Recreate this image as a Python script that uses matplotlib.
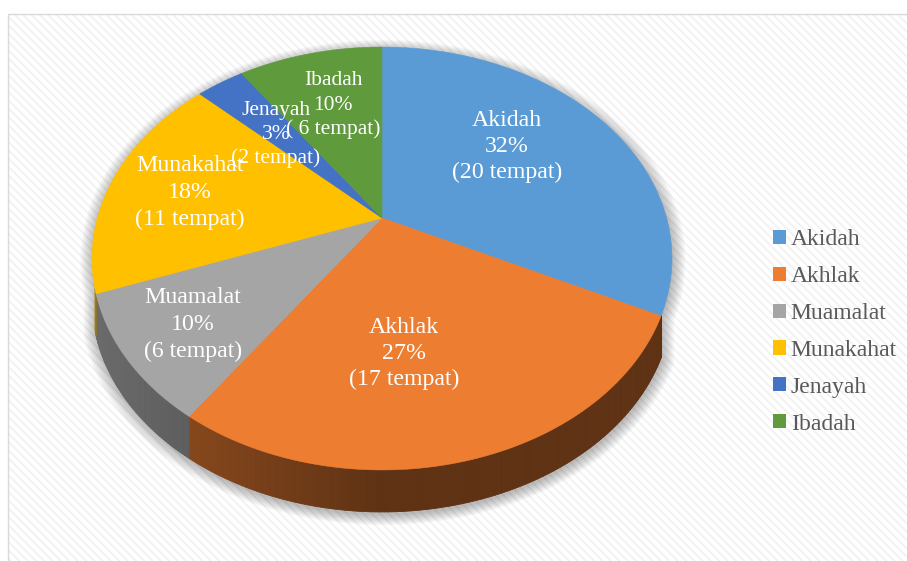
import numpy as np
import matplotlib.pyplot as plt
from matplotlib.patches import Rectangle, Patch, Polygon
from matplotlib.collections import PolyCollection
from matplotlib.colors import to_rgb

categories = ["Akidah", "Akhlak", "Muamalat", "Munakahat", "Jenayah", "Ibadah"]
tempat = [20, 17, 6, 11, 2, 6]
colors = ["#5B9BD5", "#ED7D31", "#A5A5A5", "#FFC000", "#4472C4", "#5F9A3D"]

# label placement (centre x, first baseline y, line step, font size) in pixels
label_x = [507, 404, 193, 190, 276, 333]
label_y = [126, 333, 303, 171, 115, 85]
label_step = [26, 26, 27, 27, 24, 24.5]
label_fs = [17.2, 17.2, 17.2, 17.2, 15.5, 15.5]

plt.rcParams['font.family'] = ['Liberation Serif', 'DejaVu Serif']
plt.rcParams['hatch.linewidth'] = 1.2

W, H = 907, 561
fig = plt.figure(figsize=(W / 100, H / 100), dpi=100)
ax = fig.add_axes([0, 0, 1, 1])
ax.set_xlim(0, W)
ax.set_ylim(H, 0)
ax.axis('off')

# chart area: faint diagonal stripes + thin border
ax.add_patch(Rectangle((8, 14), 905, 552, facecolor='white', edgecolor='#f1f1f1',
                       hatch='\\\\\\\\', linewidth=0, zorder=0))
ax.add_patch(Rectangle((8, 14), 905, 552, fill=False, edgecolor='#d9d9d9',
                       linewidth=1, zorder=1))

# perspective disc
CX, CY = 382, 218
A, B, C = 284.6, 203.7, 0.1915
DEPTH = 42


def project(theta, r=1.0):
    t = np.radians(theta)
    X = r * np.sin(t)
    Y = r * np.cos(t)
    w = 1 + C * Y
    return CX + A * X / w, CY - B * Y / w


# visible part of the side wall (clockwise degrees from top)
th_r, th_l = 116, 251

total = sum(tempat)
bounds = np.concatenate([[0], np.cumsum(tempat) / total * 360])

# soft shadow
tb = np.linspace(th_l, 360 + th_r, 200)
tf = np.linspace(th_r, th_l, 200)
xb, yb = project(tb)
xf, yf = project(tf)
ox = np.concatenate([xb, xf])
oy = np.concatenate([yb, yf + DEPTH])
for k in range(12):
    s = 1 + 0.004 * k
    px = 382 + (ox - 382) * s + 1
    py = 280 + (oy - 280) * s + 3
    ax.add_patch(Polygon(np.column_stack([px, py]), closed=True, facecolor='black',
                         edgecolor='none', alpha=0.022, zorder=2))

# side walls
def shade(x):
    return 0.40 + 0.25 * np.clip((380 - x) / 290, 0, 1)


quads, qcols = [], []
for i in range(len(tempat)):
    a0 = max(bounds[i], th_r)
    a1 = min(bounds[i + 1], th_l)
    if a1 <= a0:
        continue
    ts = np.linspace(a0, a1, max(3, int((a1 - a0) * 2)))
    xs, ys = project(ts)
    base = np.array(to_rgb(colors[i]))
    for j in range(len(ts) - 1):
        quads.append([(xs[j], ys[j]), (xs[j + 1], ys[j + 1]),
                      (xs[j + 1], ys[j + 1] + DEPTH), (xs[j], ys[j] + DEPTH)])
        qcols.append(base * shade((xs[j] + xs[j + 1]) / 2))
ax.add_collection(PolyCollection(quads, facecolors=qcols, edgecolors=qcols,
                                 linewidths=0.6, zorder=3))

# top face
for i in range(len(tempat)):
    ts = np.linspace(bounds[i], bounds[i + 1], 120)
    xs, ys = project(ts)
    pts = np.column_stack([np.concatenate([[CX], xs]), np.concatenate([[CY], ys])])
    ax.add_patch(Polygon(pts, closed=True, facecolor=colors[i], edgecolor=colors[i],
                         linewidth=0.4, zorder=4))

# data labels (the Jenayah / Ibadah overlap is as in the original)
for i, name in enumerate(categories):
    pct = round(100 * tempat[i] / total)
    paren = f"({tempat[i]} tempat)" if name != "Ibadah" else f"( {tempat[i]} tempat)"
    for k, line in enumerate([name, f"{pct}%", paren]):
        ax.text(label_x[i], label_y[i] + k * label_step[i], line, color='white',
                fontsize=label_fs[i], ha='center', va='baseline', zorder=6)

handles = [Patch(facecolor=c, edgecolor='none') for c in colors]
fig.legend(handles, categories, loc='center left', bbox_to_anchor=(773 / W, 1 - 332 / H),
           frameon=False, fontsize=17, labelcolor='#595959', handlelength=0.55,
           handleheight=0.55, handletextpad=0.2, labelspacing=0.67, borderpad=0,
           borderaxespad=0)

fig.savefig('out.png', dpi=100)
